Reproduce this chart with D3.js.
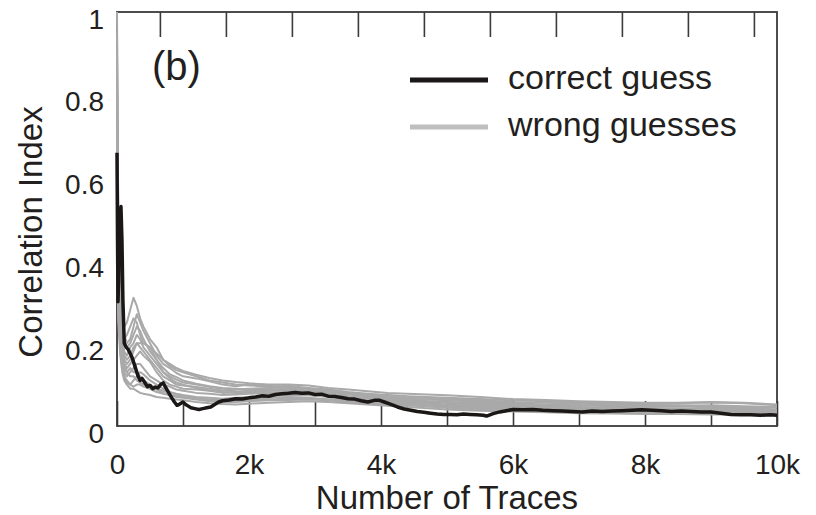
<!DOCTYPE html>
<html><head><meta charset="utf-8">
<script src="https://cdn.jsdelivr.net/npm/d3@7/dist/d3.min.js"></script>
<style>
html,body{margin:0;padding:0;background:#fff;}
text{font-family:"Liberation Sans",Arial,Helvetica,sans-serif;fill:#231f20;}
</style></head>
<body><svg id="c" width="816" height="515"></svg>
<script>
// ---- data ----
const xTickValues = [0,1000,2000,3000,4000,5000,6000,7000,8000,9000,10000];
const xLabelValues = [0,2000,4000,6000,8000,10000];
const xLabels = ["0","2k","4k","6k","8k","10k"];
const topTickValues = [650,1650,2650,3650,4650,5650,6650,7650,8650,9650];
const yLabelValues = [0,0.2,0.4,0.6,0.8,1];
const yLabels = ["0","0.2","0.4","0.6","0.8","1"];
const seriesNames = ["correct guess","wrong guesses"];

const correctX = [0,8,15,25,40,60,75,90,110,140,170,200,230,260,290,320,350,380,420,460,500,540,580,620,660,700,730,760,800,830,870,910,950,1000,1040,1080,1120,1180,1240,1300,1360,1420,1480,1540,1600,1700,1800,1900,2000,2100,2200,2300,2400,2500,2600,2700,2800,2900,3000,3100,3200,3300,3400,3500,3600,3700,3800,3900,3980,4050,4150,4250,4350,4450,4550,4650,4750,4850,4950,5050,5150,5250,5350,5450,5550,5600,5700,5800,5900,6000,6150,6300,6450,6600,6750,6900,7050,7200,7350,7500,7650,7800,7950,8100,8250,8400,8550,8700,8850,9000,9150,9300,9450,9600,9750,9900,10000];
const correctY = [0.66,0.45,0.30,0.35,0.50,0.53,0.45,0.30,0.20,0.19,0.185,0.175,0.165,0.15,0.135,0.12,0.11,0.115,0.105,0.095,0.098,0.09,0.094,0.092,0.10,0.104,0.095,0.087,0.076,0.068,0.058,0.05,0.053,0.058,0.052,0.048,0.044,0.042,0.04,0.042,0.044,0.046,0.052,0.058,0.061,0.063,0.066,0.065,0.068,0.07,0.073,0.072,0.076,0.078,0.079,0.081,0.079,0.08,0.076,0.077,0.072,0.071,0.069,0.066,0.065,0.061,0.058,0.062,0.062,0.058,0.052,0.046,0.041,0.038,0.035,0.033,0.031,0.029,0.028,0.028,0.027,0.029,0.028,0.027,0.026,0.024,0.03,0.034,0.037,0.04,0.039,0.04,0.038,0.037,0.036,0.035,0.034,0.036,0.035,0.036,0.037,0.038,0.039,0.038,0.037,0.035,0.036,0.035,0.034,0.034,0.031,0.028,0.027,0.027,0.026,0.027,0.026];

const wrongX = [0,20,50,80,110,150,200,250,300,350,400,500,600,700,800,900,1000,1200,1400,1600,1800,2000,2300,2600,2900,3200,3500,3800,4100,4400,4700,5000,5500,6000,6500,7000,7500,8000,8500,9000,9500,10000];
const wrong1 = [0.95,0.45,0.30,0.26,0.24,0.25,0.28,0.31,0.29,0.26,0.24,0.21,0.19,0.16,0.145,0.135,0.13,0.12,0.11,0.105,0.10,0.098,0.095,0.097,0.092,0.088,0.082,0.078,0.074,0.07,0.068,0.066,0.06,0.055,0.052,0.05,0.048,0.046,0.047,0.045,0.043,0.04];
const wrong2 = [0.85,0.52,0.33,0.28,0.22,0.2,0.21,0.24,0.27,0.25,0.23,0.2,0.17,0.15,0.14,0.128,0.12,0.115,0.108,0.1,0.096,0.1,0.097,0.093,0.09,0.085,0.08,0.076,0.075,0.072,0.07,0.068,0.065,0.062,0.06,0.057,0.055,0.054,0.055,0.057,0.055,0.05];
const wrong3 = [0.7,0.4,0.25,0.2,0.18,0.17,0.19,0.2,0.22,0.21,0.19,0.17,0.15,0.13,0.12,0.112,0.105,0.1,0.095,0.09,0.088,0.09,0.092,0.094,0.09,0.084,0.078,0.074,0.07,0.066,0.064,0.062,0.058,0.053,0.05,0.049,0.05,0.051,0.05,0.048,0.046,0.045];
const wrong4 = [0.6,0.3,0.22,0.17,0.15,0.14,0.15,0.16,0.17,0.18,0.17,0.155,0.13,0.11,0.1,0.095,0.09,0.088,0.085,0.08,0.082,0.085,0.088,0.09,0.086,0.08,0.076,0.072,0.068,0.064,0.06,0.058,0.055,0.05,0.047,0.045,0.044,0.043,0.042,0.04,0.039,0.038];
const wrong5 = [0.9,0.35,0.2,0.16,0.13,0.12,0.13,0.14,0.15,0.15,0.14,0.12,0.11,0.1,0.095,0.088,0.085,0.08,0.078,0.075,0.076,0.078,0.08,0.082,0.08,0.076,0.07,0.066,0.062,0.058,0.055,0.052,0.048,0.045,0.042,0.04,0.038,0.037,0.036,0.035,0.035,0.034];
const wrong6 = [0.75,0.28,0.18,0.14,0.12,0.11,0.1,0.11,0.12,0.13,0.125,0.11,0.1,0.09,0.082,0.078,0.075,0.07,0.068,0.066,0.068,0.07,0.072,0.075,0.074,0.07,0.066,0.062,0.058,0.055,0.052,0.05,0.046,0.042,0.039,0.037,0.036,0.035,0.034,0.033,0.032,0.031];
const wrong7 = [0.65,0.25,0.17,0.13,0.11,0.1,0.09,0.09,0.085,0.08,0.078,0.075,0.07,0.068,0.066,0.064,0.062,0.058,0.055,0.053,0.052,0.054,0.056,0.058,0.06,0.058,0.055,0.052,0.049,0.046,0.043,0.04,0.037,0.035,0.033,0.031,0.03,0.029,0.029,0.028,0.028,0.027];
const wrong8 = [0.8,0.38,0.26,0.22,0.2,0.19,0.2,0.22,0.24,0.23,0.21,0.18,0.16,0.14,0.125,0.118,0.11,0.102,0.096,0.092,0.09,0.088,0.086,0.085,0.084,0.082,0.078,0.075,0.072,0.07,0.068,0.066,0.062,0.058,0.056,0.054,0.052,0.05,0.049,0.05,0.048,0.046];
const wrong9 = [0.55,0.27,0.2,0.15,0.14,0.13,0.14,0.13,0.13,0.12,0.11,0.1,0.09,0.085,0.08,0.076,0.072,0.068,0.064,0.062,0.063,0.065,0.068,0.07,0.068,0.064,0.06,0.058,0.056,0.052,0.048,0.045,0.042,0.04,0.038,0.036,0.035,0.034,0.033,0.032,0.031,0.03];
const wrong10 = [1.0,0.48,0.28,0.24,0.21,0.22,0.24,0.26,0.25,0.22,0.2,0.19,0.175,0.16,0.15,0.14,0.133,0.124,0.116,0.11,0.106,0.103,0.1,0.1,0.098,0.092,0.088,0.084,0.08,0.078,0.076,0.074,0.07,0.065,0.063,0.06,0.058,0.056,0.056,0.058,0.056,0.052];
const wrong11 = [0.68,0.32,0.23,0.19,0.16,0.15,0.16,0.18,0.2,0.19,0.18,0.16,0.14,0.12,0.11,0.1,0.098,0.094,0.09,0.086,0.084,0.083,0.082,0.08,0.078,0.074,0.07,0.068,0.065,0.062,0.06,0.057,0.053,0.049,0.046,0.044,0.042,0.041,0.041,0.042,0.041,0.04];
const wrong12 = [0.78,0.3,0.19,0.15,0.12,0.105,0.1,0.095,0.1,0.1,0.095,0.09,0.082,0.078,0.074,0.07,0.068,0.064,0.06,0.058,0.058,0.06,0.062,0.063,0.064,0.062,0.058,0.055,0.052,0.05,0.047,0.044,0.04,0.038,0.036,0.034,0.033,0.032,0.031,0.03,0.03,0.029];
const wrong13 = [0.88,0.42,0.27,0.21,0.17,0.16,0.17,0.19,0.2,0.2,0.2,0.19,0.16,0.13,0.115,0.105,0.1,0.092,0.086,0.082,0.08,0.08,0.079,0.078,0.077,0.076,0.072,0.068,0.064,0.06,0.058,0.056,0.05,0.046,0.044,0.043,0.042,0.04,0.038,0.037,0.036,0.035];
const wrong14 = [0.62,0.29,0.21,0.18,0.15,0.13,0.12,0.12,0.11,0.105,0.1,0.095,0.088,0.08,0.075,0.072,0.07,0.066,0.062,0.06,0.06,0.062,0.064,0.066,0.066,0.064,0.062,0.06,0.058,0.055,0.052,0.049,0.045,0.042,0.04,0.039,0.038,0.036,0.035,0.034,0.033,0.032];
const wrongSeries = [wrong1,wrong2,wrong3,wrong4,wrong5,wrong6,wrong7,wrong8,wrong9,wrong10,wrong11,wrong12,wrong13,wrong14];

// ---- layout ----
const L=117, R=777, T=12, B=426;
const svg = d3.select("#c");
const x = d3.scaleLinear().domain([0,10000]).range([L,R]);
const y = d3.scaleLinear().domain([0,1]).range([B,T]);
const frameColor = "#3a3a3a";
const font = "'Liberation Sans',Arial,sans-serif";

// ticks (inward)
svg.append("g").attr("transform",`translate(0,${B})`)
  .call(d3.axisBottom(x).tickValues(xTickValues).tickSize(-25).tickFormat(""))
  .call(g=>{g.select(".domain").remove(); g.selectAll("line").attr("stroke",frameColor).attr("stroke-width",1.6);});
svg.append("g").attr("transform",`translate(0,${T})`)
  .call(d3.axisTop(x).tickValues(topTickValues).tickSize(-25).tickFormat(""))
  .call(g=>{g.select(".domain").remove(); g.selectAll("line").attr("stroke",frameColor).attr("stroke-width",1.6);});

// frame
svg.append("rect").attr("x",L).attr("y",T).attr("width",R-L).attr("height",B-T)
  .attr("fill","none").attr("stroke",frameColor).attr("stroke-width",1.8);

// tick labels
svg.append("g").attr("transform",`translate(0,${B+48})`)
  .call(d3.axisBottom(x).tickValues(xLabelValues).tickSize(0).tickFormat((d,i)=>xLabels[i]))
  .call(g=>{g.select(".domain").remove(); g.selectAll("text").attr("font-size",28).attr("dy",0).attr("y",0).style("font-family",font).attr("fill","#231f20");});
svg.append("g").attr("transform",`translate(${L-13},6)`)
  .call(d3.axisLeft(y).tickValues(yLabelValues).tickSize(0).tickFormat((d,i)=>yLabels[i]))
  .call(g=>{g.select(".domain").remove(); g.selectAll("text").attr("font-size",28).attr("x",0).attr("dy","0.36em").style("font-family",font).attr("fill","#231f20");});

// axis titles
svg.append("text").attr("x",(L+R)/2).attr("y",509).attr("text-anchor","middle")
  .attr("font-size",33).text("Number of Traces");
svg.append("text").attr("transform",`translate(42,${(T+B)/2+13}) rotate(-90)`).attr("text-anchor","middle")
  .attr("font-size",33).text("Correlation Index");

// lines
const line = d3.line().x(d=>x(d[0])).y(d=>y(d[1]));
const g = svg.append("g");
wrongSeries.forEach(s=>{
  g.append("path").attr("d",line(wrongX.map((v,i)=>[v,s[i]])))
   .attr("fill","none").attr("stroke","#a9a9a9").attr("stroke-width",2).attr("stroke-linejoin","round");
});
g.append("path").attr("d",line(correctX.map((v,i)=>[v,correctY[i]])))
  .attr("fill","none").attr("stroke","#1a1716").attr("stroke-width",3.5).attr("stroke-linejoin","round");

// panel label
svg.append("text").attr("x",152).attr("y",80).attr("font-size",40).text("(b)");

// legend
const leg = svg.append("g");
[[80,"#1a1716"],[127,"#bfbfbf"]].forEach((p,i)=>{
  leg.append("line").attr("x1",410).attr("x2",488).attr("y1",p[0]).attr("y2",p[0])
    .attr("stroke",p[1]).attr("stroke-width",5);
  leg.append("text").attr("x",508).attr("y",p[0]+9).attr("font-size",34).text(seriesNames[i]);
});
</script></body></html>
